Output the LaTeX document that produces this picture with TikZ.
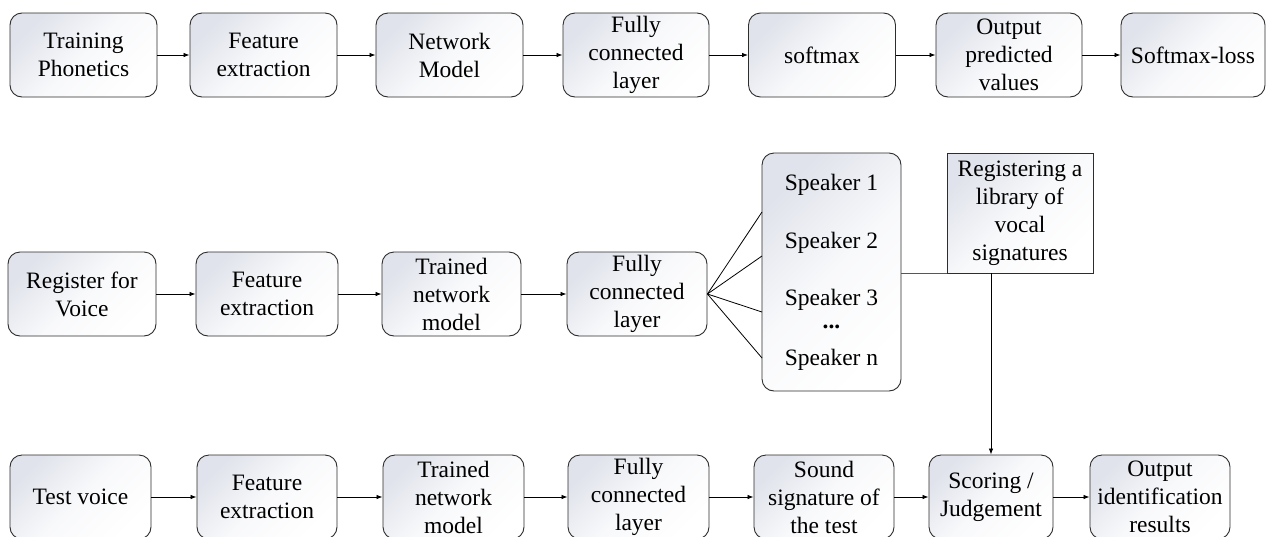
\documentclass[tikz,border=0pt]{standalone}
\usepackage{fontspec}
\setmainfont{Liberation Serif}
\newfontfamily\tnr{Liberation Serif}
\usetikzlibrary{arrows.meta}
\definecolor{shadecol}{RGB}{224,227,235}
\definecolor{edgecol}{RGB}{45,45,45}
\tikzset{
  box/.style={draw=edgecol, line width=0.9pt, rounded corners=12pt,
    top color=shadecol, bottom color=white, middle color=white!78!shadecol,
    shading angle=45,
    align=center, inner sep=0pt, minimum height=84pt,
    font=\tnr\fontsize{23.5}{28}\selectfont},
  sqbox/.style={box, rounded corners=0pt},
  lbl/.style={inner sep=0pt, font=\tnr\fontsize{23.5}{28}\selectfont},
  arr/.style={draw=black, line width=0.8pt, -{Latex[length=6pt,width=4.5pt]}},
  ln/.style={draw=black, line width=0.8pt},
  gln/.style={draw=edgecol!80, line width=0.9pt}
}
\begin{document}
\begin{tikzpicture}[x=1pt,y=-1pt]
\path[use as bounding box, clip] (0,0) rectangle (1269,536);
\fill[white] (0,0) rectangle (1269,536);
% top row
\node[box, minimum width=147pt] (t1) at (83.5,55) {Training\\Phonetics};
\node[box, minimum width=147pt] (t2) at (263.5,55) {Feature\\extraction};
\node[box, minimum width=147pt] (t3) at (449.5,55) {Network\\Model};
\node[box, minimum width=146pt] (t4) at (636,55) {Fully\\connected\\layer};
\node[box, minimum width=147pt] (t5) at (822,55) {softmax};
\node[box, minimum width=146pt] (t6) at (1009,55) {Output\\predicted\\values};
\node[box, minimum width=144pt] (t7) at (1193,55) {Softmax-loss};
\foreach \a/\b in {t1/t2,t2/t3,t3/t4,t4/t5,t5/t6,t6/t7}
  \draw[arr] (\a.east) -- (\b.west);
% middle row
\node[box, minimum width=148pt] (m1) at (82,294) {Register for\\Voice};
\node[box, minimum width=142pt] (m2) at (267,294) {Feature\\extraction};
\node[box, minimum width=139pt] (m3) at (451.5,294) {Trained\\network\\model};
\node[box, minimum width=140pt] (m4) at (637,294) {Fully\\connected\\layer};
\foreach \a/\b in {m1/m2,m2/m3,m3/m4}
  \draw[arr] (\a.east) -- (\b.west);
% speaker box
\node[box, minimum width=139pt, minimum height=238pt] (spk) at (831.5,272) {};
\node[lbl] (s1) at (831.5,185) {Speaker 1};
\node[lbl] (s2) at (831.5,243) {Speaker 2};
\node[lbl] (s3) at (831.5,300) {Speaker 3};
\node[lbl] (sd) at (831.5,327) {\textbf{...}};
\node[lbl] (sn) at (831.5,360) {Speaker n};
\coordinate (f1) at (762,212);
\coordinate (f2) at (762,256);
\coordinate (f3) at (762,312);
\coordinate (f4) at (762,358);
\foreach \c in {f1,f2,f3,f4}
  \draw[ln] (m4.east) -- (\c);
% registering
\node[sqbox, minimum width=146pt, minimum height=120pt] (reg) at (1020,213)
  {Registering a\\library of\\vocal\\signatures};
\draw[gln] (spk.east |- reg.south) -- (reg.south west);
% bottom row
\node[box, minimum width=141pt] (b1) at (80.5,497) {Test voice};
\node[box, minimum width=140pt] (b2) at (267,497) {Feature\\extraction};
\node[box, minimum width=141pt] (b3) at (453.5,497) {Trained\\network\\model};
\node[box, minimum width=141pt] (b4) at (638.5,497) {Fully\\connected\\layer};
\node[box, minimum width=140pt] (b5) at (824,497) {Sound\\signature of\\the test};
\node[box, minimum width=124pt] (b6) at (991,497) {Scoring /\\Judgement};
\node[box, minimum width=140pt] (b7) at (1160,497) {Output\\identification\\results};
\foreach \a/\b in {b1/b2,b2/b3,b3/b4,b4/b5,b5/b6,b6/b7}
  \draw[arr] (\a.east) -- (\b.west);
\draw[arr] (reg.south -| b6.north) -- (b6.north);
\end{tikzpicture}
\end{document}
